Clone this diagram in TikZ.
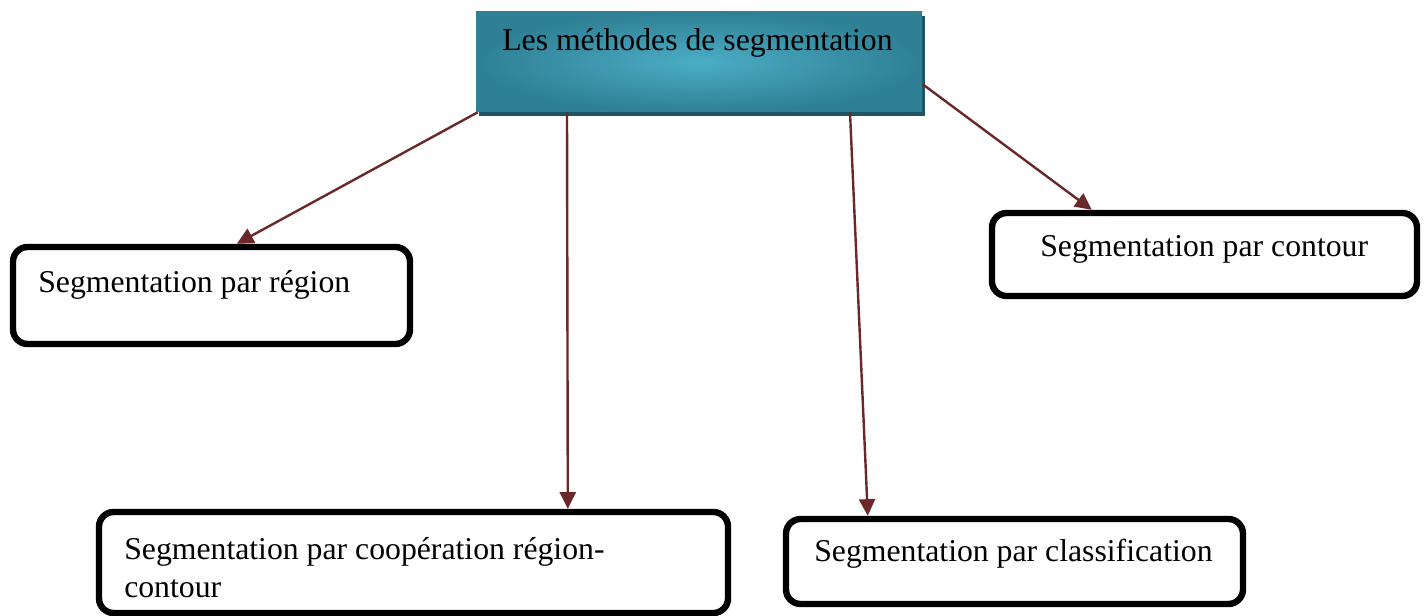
\documentclass[tikz,border=0pt]{standalone}
\usepackage{fontspec}
\setmainfont{Liberation Serif}
\usetikzlibrary{arrows.meta,shadows}
\definecolor{arrowc}{HTML}{6B2828}
\definecolor{tealin}{HTML}{4BADC6}
\definecolor{tealout}{HTML}{2F8094}
\definecolor{shadowc}{HTML}{1E5563}
\begin{document}
\begin{tikzpicture}[x=0.75pt,y=-0.75pt,
  box/.style={draw=black, line width=4.8pt, rounded corners=11pt, inner sep=0pt, fill=white},
  heading/.style={inner sep=0pt, inner color=tealin, outer color=tealout,
    drop shadow={shadow xshift=2.5pt, shadow yshift=-3pt, fill=shadowc, opacity=1}},
  txt/.style={inner sep=0pt, anchor=base west, font=\fontsize{23.8}{28.5}\selectfont, align=left},
  conn/.style={draw=arrowc, line width=1.8pt, -{Triangle[length=12.5pt,width=12pt]}}]
\useasboundingbox (0,0) rectangle (1427,616);

\node[heading, minimum width=334.5pt, minimum height=75pt] (top) at (699,62) {};
\node[txt] (toptxt) at (502,50.7) {Les méthodes de segmentation};

\node[box, minimum width=297.75pt, minimum height=72.75pt] (region) at (211.5,295.5) {};
\node[txt] (regiontxt) at (38,292.5) {Segmentation par région};

\node[box, minimum width=318.75pt, minimum height=62.25pt] (contour) at (1204.5,254.5) {};
\node[txt] (contourtxt) at (1040,257) {Segmentation par contour};

\node[box, minimum width=471.75pt, minimum height=75.75pt] (coop) at (413.5,562.5) {};
\node[txt] (cooptxt) at (124,597) {Segmentation par coopération région-\\contour};

\node[box, minimum width=342.75pt, minimum height=63.75pt] (class) at (1014.5,561.5) {};
\node[txt] (classtxt) at (814,561.5) {Segmentation par classification};

\draw[conn] ([xshift=1.5pt]top.south west) -- ([xshift=170.25pt]region.north west);
\draw[conn] ([xshift=-99pt]top.south) -- ([xshift=354pt]coop.north west);
\draw[conn] ([xshift=113.25pt]top.south) -- ([xshift=63.75pt]class.north west);
\draw[conn] ([yshift=-16.5pt]top.east) -- ([xshift=77.25pt]contour.north west);
\end{tikzpicture}
\end{document}
